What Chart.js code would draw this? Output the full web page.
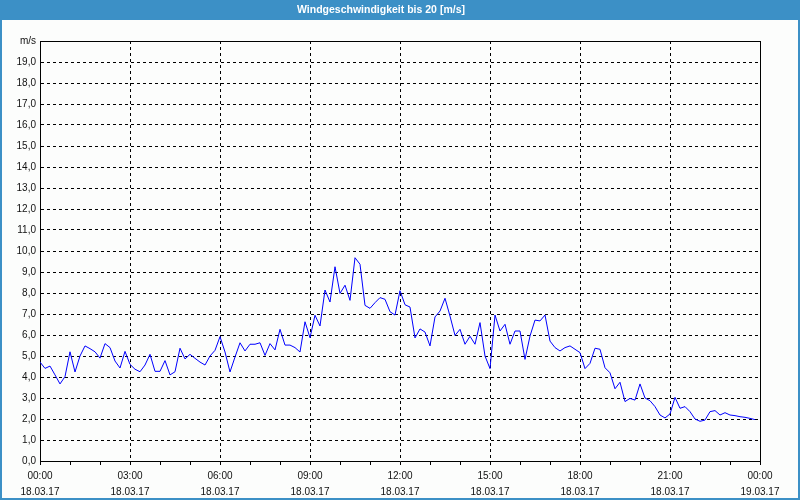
<!DOCTYPE html>
<html>
<head>
<meta charset="utf-8">
<script src="https://cdn.jsdelivr.net/npm/chart.js@4.4.1/dist/chart.umd.min.js"></script>
<style>
  html, body { margin: 0; padding: 0; background: #fcfdfc; }
  #wrap { width: 800px; height: 500px; position: relative; }
  canvas { display: block; }
</style>
</head>
<body>
<div id="wrap"><canvas id="c" width="800" height="500"></canvas></div>
<script>
// ---- data (10-minute samples, 18.03.17 00:00 .. 23:50) ----
const titleText = 'Windgeschwindigkeit bis 20 [m/s]';
const yUnitLabel = 'm/s';
const sampleStepMinutes = 10;
const windSpeed = [
  4.71, 4.41, 4.52, 4.10, 3.67, 4.02, 5.20, 4.24, 5.00, 5.48, 5.35, 5.20,
  4.90, 5.59, 5.40, 4.76, 4.43, 5.22, 4.60, 4.37, 4.25, 4.57, 5.08, 4.27,
  4.27, 4.78, 4.10, 4.25, 5.37, 4.86, 5.08, 4.89, 4.71, 4.57, 5.00, 5.27,
  5.92, 5.19, 4.24, 4.95, 5.63, 5.24, 5.56, 5.56, 5.63, 5.03, 5.59, 5.29,
  6.27, 5.52, 5.52, 5.40, 5.19, 6.63, 5.87, 6.94, 6.43, 8.14, 7.57, 9.25,
  7.98, 8.37, 7.65, 9.68, 9.37, 7.41, 7.27, 7.54, 7.78, 7.70, 7.11, 6.95,
  8.11, 7.44, 7.33, 5.86, 6.29, 6.14, 5.48, 6.86, 7.14, 7.75, 6.90, 5.98,
  6.27, 5.56, 5.94, 5.56, 6.59, 5.00, 4.40, 6.95, 6.19, 6.51, 5.56, 6.19,
  6.19, 4.84, 5.95, 6.71, 6.67, 6.95, 5.71, 5.40, 5.24, 5.40, 5.48, 5.32,
  5.16, 4.40, 4.65, 5.37, 5.32, 4.44, 4.20, 3.44, 3.75, 2.83, 2.98, 2.90,
  3.67, 3.00, 2.87, 2.59, 2.19, 2.05, 2.24, 3.03, 2.51, 2.59, 2.35, 2.00,
  1.89, 1.95, 2.35, 2.40, 2.19, 2.30, 2.19, 2.16, 2.11, 2.08, 2.03, 1.97
];
// major x ticks every 3 hours (minutes from 18.03.17 00:00)
const xTickMinutes = [0, 180, 360, 540, 720, 900, 1080, 1260, 1440];
const xTickTimes   = ['00:00','03:00','06:00','09:00','12:00','15:00','18:00','21:00','00:00'];
const xTickDates   = ['18.03.17','18.03.17','18.03.17','18.03.17','18.03.17','18.03.17','18.03.17','18.03.17','19.03.17'];

const points = windSpeed.map((v, i) => ({ x: i * sampleStepMinutes, y: v }));

const FONT = '"Liberation Sans", "DejaVu Sans", sans-serif';

const framePlugin = {
  id: 'frame',
  beforeDraw(chart) {
    const ctx = chart.ctx;
    ctx.save();
    ctx.fillStyle = '#fcfdfc';
    ctx.fillRect(0, 0, chart.width, chart.height);
    ctx.fillStyle = '#3c90c6';
    ctx.fillRect(0, 0, chart.width, 20);
    ctx.strokeStyle = '#3c90c6';
    ctx.lineWidth = 2;
    ctx.strokeRect(1, 1, chart.width - 2, chart.height - 2);
    ctx.restore();
  },
  afterDraw(chart) {
    const a = chart.chartArea;
    const ctx = chart.ctx;
    ctx.save();
    ctx.strokeStyle = '#000';
    ctx.lineWidth = 1;
    const l = Math.round(a.left) + 0.5, t = Math.round(a.top) + 0.5;
    const r = Math.round(a.right) + 0.5, b = Math.round(a.bottom) + 0.5;
    ctx.beginPath();
    ctx.moveTo(l, t); ctx.lineTo(r, t); ctx.lineTo(r, b);
    ctx.stroke();
    ctx.restore();
  }
};

new Chart(document.getElementById('c'), {
  type: 'line',
  data: {
    datasets: [{
      data: points,
      borderColor: '#0000ff',
      borderWidth: 1,
      pointRadius: 0,
      tension: 0,
      fill: false
    }]
  },
  options: {
    responsive: false,
    animation: false,
    events: [],
    layout: { padding: { left: 2, right: 40, top: 0, bottom: 2 } },
    plugins: {
      legend: { display: false },
      tooltip: { enabled: false },
      title: {
        display: true,
        text: titleText,
        color: '#ffffff',
        font: { family: FONT, size: 10.5, weight: 'bold', lineHeight: 1.2 },
        padding: { top: 4, bottom: 24.4 }
      }
    },
    scales: {
      x: {
        type: 'linear',
        min: 0,
        max: 1440,
        afterBuildTicks(scale) {
          const t = [];
          for (let m = 0; m <= 1440; m += 60) t.push({ value: m });
          scale.ticks = t;
        },
        afterFit(scale) { scale.height = 37; },
        ticks: {
          autoSkip: false,
          maxRotation: 0,
          padding: 3,
          color: '#111',
          font: { family: FONT, size: 10, lineHeight: 1.6 },
          callback(v) {
            const k = xTickMinutes.indexOf(v);
            return k >= 0 ? [xTickTimes[k], xTickDates[k]] : '';
          }
        },
        grid: {
          color: (c) => (c.tick && c.tick.value % 180 === 0) ? '#000' : 'rgba(0,0,0,0)',
          tickColor: '#000',
          tickLength: 4,
          lineWidth: 1
        },
        border: { display: true, color: '#000', width: 1, dash: [3, 3] }
      },
      y: {
        min: 0,
        max: 20,
        afterFit(scale) { scale.width = 38; },
        ticks: {
          stepSize: 1,
          padding: 4,
          color: '#111',
          font: { family: FONT, size: 10 },
          callback(v) {
            if (v === 20) return yUnitLabel;
            return v.toFixed(1).replace('.', ',');
          }
        },
        grid: {
          color: '#000',
          drawTicks: false,
          lineWidth: 1
        },
        border: { display: true, color: '#000', width: 1, dash: [3, 3] }
      }
    }
  },
  plugins: [framePlugin]
});
</script>
</body>
</html>
